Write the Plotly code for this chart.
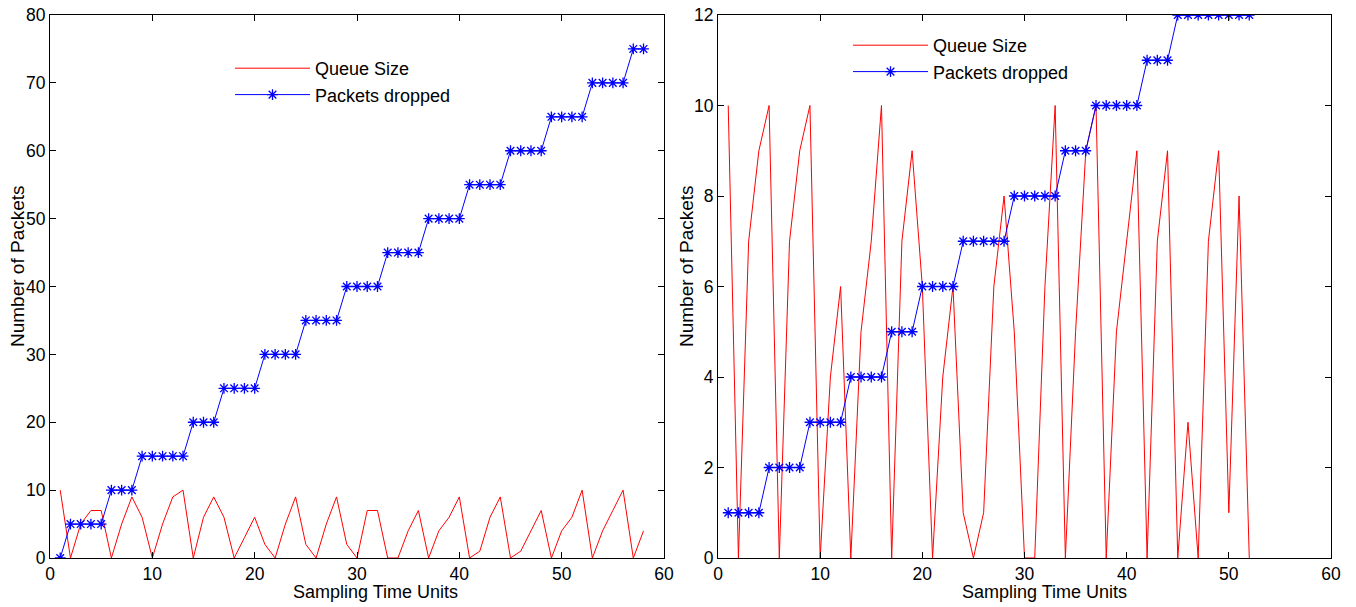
import plotly.graph_objects as go

# ---- Left panel data ----
left_x = list(range(1, 59))
left_queue = [10, 0, 5, 7, 7, 0, 5, 9, 6, 0,
              5, 9, 10, 0, 6, 9, 6, 0, 3, 6,
              2, 0, 5, 9, 2, 0, 5, 9, 2, 0,
              7, 7, 0, 0, 4, 7, 0, 4, 6, 9,
              0, 1, 6, 9, 0, 1, 4, 7, 0, 4,
              6, 10, 0, 4, 7, 10, 0, 4]
left_dropped = [0, 5, 5, 5, 5, 10, 10, 10, 15, 15,
                15, 15, 15, 20, 20, 20, 25, 25, 25, 25,
                30, 30, 30, 30, 35, 35, 35, 35, 40, 40,
                40, 40, 45, 45, 45, 45, 50, 50, 50, 50,
                55, 55, 55, 55, 60, 60, 60, 60, 65, 65,
                65, 65, 70, 70, 70, 70, 75, 75]

# ---- Right panel data ----
right_x = list(range(1, 53))
right_queue = [10, 0, 7, 9, 10, 0, 7, 9, 10, 0,
               4, 6, 0, 5, 7, 10, 0, 7, 9, 6,
               0, 4, 6, 1, 0, 1, 6, 8, 5, 0,
               0, 6, 10, 0, 5, 9, 10, 0, 5, 7,
               9, 0, 7, 9, 0, 3, 0, 7, 9, 1,
               8, 0]
right_dropped = [1, 1, 1, 1, 2, 2, 2, 2, 3, 3,
                 3, 3, 4, 4, 4, 4, 5, 5, 5, 6,
                 6, 6, 6, 7, 7, 7, 7, 7, 8, 8,
                 8, 8, 8, 9, 9, 9, 10, 10, 10, 10,
                 10, 11, 11, 11, 12, 12, 12, 12, 12, 12,
                 12, 12]

x_ticks = [0, 10, 20, 30, 40, 50, 60]
left_y_ticks = [0, 10, 20, 30, 40, 50, 60, 70, 80]
right_y_ticks = [0, 2, 4, 6, 8, 10, 12]

series_names = ["Queue Size", "Packets dropped"]
x_title = "Sampling Time Units"
y_title = "Number of Packets"

FONT = "Liberation Sans, Arial, Helvetica, sans-serif"
W, H = 1356, 607
PLOT_TOP, PLOT_BOT = 15, 558  # in window pixels
margin_t = PLOT_TOP
margin_b = H - PLOT_BOT
plot_h = H - margin_t - margin_b


def px(xpix):
    return xpix / W


def py(ypix):
    return (PLOT_BOT - ypix) / plot_h


fig = go.Figure()

marker_style = dict(symbol="asterisk-open", size=9, color="#0000ff",
                    line=dict(color="#0000ff", width=1.3))

fig.add_trace(go.Scatter(x=left_x, y=left_queue, mode="lines", name=series_names[0],
                         line=dict(color="#ff0000", width=1), xaxis="x", yaxis="y",
                         legend="legend"))
fig.add_trace(go.Scatter(x=left_x, y=left_dropped, mode="lines+markers", name=series_names[1],
                         line=dict(color="#0000ff", width=1), marker=marker_style,
                         xaxis="x", yaxis="y", legend="legend"))
fig.add_trace(go.Scatter(x=right_x, y=right_queue, mode="lines", name=series_names[0],
                         line=dict(color="#ff0000", width=1), xaxis="x2", yaxis="y2",
                         legend="legend2"))
fig.add_trace(go.Scatter(x=right_x, y=right_dropped, mode="lines+markers", name=series_names[1],
                         line=dict(color="#0000ff", width=1), marker=marker_style,
                         xaxis="x2", yaxis="y2", legend="legend2"))

axis_common = dict(showline=True, linecolor="black", linewidth=1, mirror="ticks",
                   ticks="inside", ticklen=6, tickcolor="black", showgrid=False,
                   zeroline=False, automargin=False, ticklabeloverflow="allow",
                   tickfont=dict(family=FONT, size=17.5, color="black"))

legend_common = dict(xref="paper", yref="paper", xanchor="left", yanchor="top",
                     bgcolor="rgba(0,0,0,0)", font=dict(family=FONT, size=18, color="black"),
                     itemwidth=75, tracegroupgap=0)

fig.update_layout(
    width=W, height=H,
    margin=dict(l=0, r=0, t=margin_t, b=margin_b, autoexpand=False),
    paper_bgcolor="white", plot_bgcolor="white",
    font=dict(family=FONT, size=17, color="black"),
    xaxis=dict(domain=[px(50), px(664)], range=[0, 60], tickvals=x_ticks, anchor="y", **axis_common),
    yaxis=dict(domain=[0, 1], range=[0, 80], tickvals=left_y_ticks, anchor="x", **axis_common),
    xaxis2=dict(domain=[px(718), px(1331)], range=[0, 60], tickvals=x_ticks, anchor="y2", **axis_common),
    yaxis2=dict(domain=[0, 1], range=[0, 12], tickvals=right_y_ticks, anchor="x2", **axis_common),
    legend=dict(x=px(230), y=py(50), **legend_common),
    legend2=dict(x=px(848), y=py(27), **legend_common),
    showlegend=True,
)

annotations = [
    dict(text=x_title, x=px(375), y=py(592), size=18),
    dict(text=x_title, x=px(1044), y=py(592), size=18),
    dict(text=y_title, x=px(17), y=py(266), textangle=-90, size=19),
    dict(text=y_title, x=px(686), y=py(266), textangle=-90, size=19),
]
for a in annotations:
    size = a.pop("size")
    a.update(xref="paper", yref="paper", showarrow=False, xanchor="center", yanchor="middle",
             font=dict(family=FONT, size=size, color="black"))
fig.update_layout(annotations=annotations)

fig.write_html("out.html",
               config={"displayModeBar": False},
               post_script="document.body.style.margin='0';document.body.style.overflow='hidden';")
